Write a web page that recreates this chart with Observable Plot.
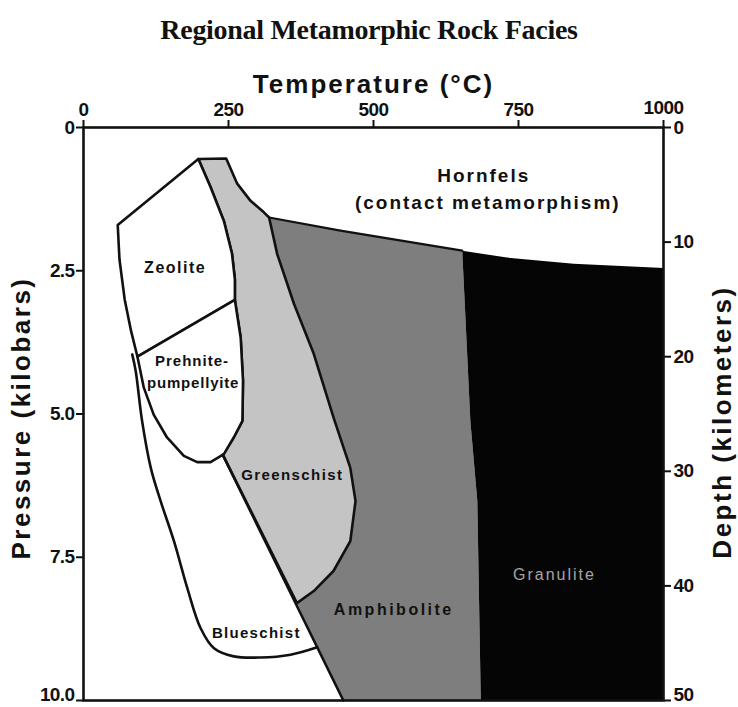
<!DOCTYPE html>
<html>
<head>
<meta charset="utf-8">
<script src="https://cdn.jsdelivr.net/npm/d3@7"></script>
<script src="https://cdn.jsdelivr.net/npm/@observablehq/plot@0.6"></script>
<style>
  body { margin: 0; background: #fff; }
  #title {
    height: 56px; line-height: 60px; text-align: center;
    font-family: "Liberation Serif", "Times New Roman", serif;
    font-weight: bold; font-size: 28px; color: #111; letter-spacing: -0.3px;
  }
  #chart svg { overflow: visible; }
</style>
</head>
<body>
<div id="title">Regional Metamorphic Rock Facies</div>
<div id="chart"></div>
<script>
// ---- Axis ticks ----
const temperatureTicks = [0, 250, 500, 750, 1000];       // °C
const pressureTicks = [0, 2.5, 5, 7.5, 10];              // kilobars
const depthTicks = [0, 10, 20, 30, 40, 50];              // kilometers
const kmPerKbar = 5;

// ---- Facies outlines, [temperature °C, pressure kbar] ----
const zeolite = [[198,0.55],[59,1.7],[62,2.3],[71,3.0],[82,3.55],[93,4.0],[261,3.01],[261,2.65],[256,2.2],[242,1.63],[219,1.04]];
const prehnitePumpellyite = [[93,4.0],[261,3.01],[271,3.67],[275,4.42],[274,5.12],[259,5.41],[242,5.70],[219,5.84],[196,5.84],[173,5.73],[144,5.41],[121,5.01],[104,4.54]];
const greenschist = [[198,0.55],[246,0.54],[265,0.98],[288,1.28],[311,1.48],[320,1.57],[334,2.21],[363,3.08],[397,3.95],[431,5.06],[460,5.94],[469,6.52],[460,7.22],[431,7.74],[397,8.09],[368,8.30],[240,5.71],[259,5.41],[274,5.12],[275,4.42],[271,3.67],[261,3.01],[261,2.65],[256,2.2],[242,1.63],[219,1.04]];
const amphibolite = [[320,1.57],[443,1.80],[653,2.15],[667,5.12],[679,6.52],[682,8.27],[685,10],[448,10],[368,8.30],[397,8.09],[431,7.74],[460,7.22],[469,6.52],[460,5.94],[431,5.06],[397,3.95],[363,3.08],[334,2.21]];
const granulite = [[653,2.15],[730,2.27],[845,2.38],[1000,2.45],[1000,10],[685,10],[682,8.27],[679,6.52],[667,5.12]];
const amphiboliteTop = [[320,1.57],[443,1.80],[653,2.15]];
const blueschistLine = [[84,3.96],[90,4.25],[101,5.12],[116,5.94],[133,6.52],[156,7.22],[179,8.04],[202,8.74],[225,9.09],[259,9.23],[305,9.25],[357,9.20],[403,9.07]];
const highPressureLine = [[240,5.71],[448,10]];

// ---- Labels (text and where it sits, in °C / kbar) ----
const faciesLabels = [
  {t:158, p:2.45, text:"Zeolite"},
  {t:187, p:4.07, text:"Prehnite-"},
  {t:189, p:4.46, text:"pumpellyite"},
  {t:360, p:6.07, text:"Greenschist"},
  {t:298, p:8.83, text:"Blueschist"},
  {t:535, p:8.41, text:"Amphibolite"},
  {t:812, p:7.80, text:"Granulite"},
  {t:690, p:0.84, text:"Hornfels"},
  {t:697, p:1.31, text:"(contact metamorphism)"}
];
const xTitle = "Temperature (°C)";
const yTitle = "Pressure (kilobars)";
const y2Title = "Depth (kilometers)";

// ---- Label styling (separate from the data) ----
const labelStyle = {
  "Zeolite": {size: 16, weight: "bold", color: "#111", ls: 1.5},
  "Prehnite-": {size: 15, weight: "bold", color: "#111", ls: 1},
  "pumpellyite": {size: 15, weight: "bold", color: "#111", ls: 0.8},
  "Greenschist": {size: 15, weight: "bold", color: "#111", ls: 1.4},
  "Blueschist": {size: 15, weight: "bold", color: "#111", ls: 1.3},
  "Amphibolite": {size: 16, weight: "bold", color: "#111", ls: 2.5},
  "Granulite": {size: 16, weight: "normal", color: "#a5a5a5", ls: 2},
  "Hornfels": {size: 19, weight: "bold", color: "#111", ls: 2},
  "(contact metamorphism)": {size: 19, weight: "bold", color: "#111", ls: 2},
  [xTitle]: {ls: 2}, [yTitle]: {ls: 2.5}, [y2Title]: {ls: 2.5}
};

const X = d => d[0], Y = d => d[1];
const font = "Liberation Sans, Arial, sans-serif";

const chart = Plot.plot({
  width: 738,
  height: 651,
  marginTop: 71,
  marginBottom: 7,
  marginLeft: 83,
  marginRight: 75,
  style: {fontFamily: font, background: "#fff", color: "#111", overflow: "visible"},
  x: {domain: [0, 1000]},
  y: {domain: [0, 10], reverse: true},
  marks: [
    Plot.line(amphibolite, {x: X, y: Y, curve: "linear-closed", fill: "#7e7e7e", stroke: "none"}),
    Plot.line(granulite, {x: X, y: Y, curve: "linear-closed", fill: "#050505", stroke: "none"}),
    Plot.line(greenschist, {x: X, y: Y, curve: "linear-closed", fill: "#c4c4c4", stroke: "#111", strokeWidth: 2.6, strokeLinejoin: "round"}),
    Plot.line(zeolite, {x: X, y: Y, curve: "linear-closed", fill: "#fff", stroke: "#111", strokeWidth: 2.6, strokeLinejoin: "round"}),
    Plot.line(prehnitePumpellyite, {x: X, y: Y, curve: "linear-closed", fill: "#fff", stroke: "#111", strokeWidth: 2.6, strokeLinejoin: "round"}),
    Plot.line(amphiboliteTop, {x: X, y: Y, stroke: "#111", strokeWidth: 2.2}),
    Plot.line(blueschistLine, {x: X, y: Y, curve: "catmull-rom", stroke: "#111", strokeWidth: 2.6}),
    Plot.line(highPressureLine, {x: X, y: Y, stroke: "#111", strokeWidth: 2.6}),
    ...faciesLabels.map(l => {
      const s = labelStyle[l.text];
      return Plot.text([l], {x: "t", y: "p", text: "text", fill: s.color, fontSize: s.size, fontWeight: s.weight, fontFamily: font});
    }),
    Plot.frame({stroke: "#111", strokeWidth: 2.6}),
    Plot.axisX({anchor: "top", ticks: temperatureTicks, tickSize: 8, tickPadding: 4, label: null,
      tickFormat: d => String(d), strokeWidth: 2}),
    Plot.axisY({anchor: "left", ticks: pressureTicks, tickSize: 7, tickPadding: 2, label: null,
      tickFormat: d => d === 0 ? "0" : d.toFixed(1), strokeWidth: 2}),
    Plot.axisY({anchor: "right", ticks: depthTicks.map(d => d / kmPerKbar), tickSize: 7, tickPadding: 3, label: null,
      tickFormat: d => String(Math.round(d * kmPerKbar)), strokeWidth: 2}),
    Plot.text([xTitle], {frameAnchor: "top", dy: -53, text: d => d, fontSize: 26, fontWeight: "bold", fontFamily: font, fill: "#111"}),
    Plot.text([yTitle], {frameAnchor: "left", dx: -62, dy: 4, rotate: -90, textAnchor: "middle", text: d => d, fontSize: 26, fontWeight: "bold", fontFamily: font, fill: "#111"}),
    Plot.text([y2Title], {frameAnchor: "right", dx: 59, dy: 8, rotate: -90, textAnchor: "middle", text: d => d, fontSize: 26, fontWeight: "bold", fontFamily: font, fill: "#111"})
  ]
});

// text styling: tick labels large, bold and slightly tight; labels spaced as in the reference
d3.select(chart).selectAll("text").each(function() {
  const s = labelStyle[this.textContent];
  if (s) {
    this.style.letterSpacing = s.ls + "px";
  } else {
    this.style.letterSpacing = "-0.6px";
    this.style.fontSize = "19px";
    this.style.fontWeight = "bold";
    this.style.fontFamily = font;
    const tr = this.getAttribute("transform") || "";
    // the lowest tick labels sit just above their tick, inside the picture
    if (this.textContent === "10.0" || this.textContent === "50") this.setAttribute("transform", tr + " translate(0,-6)");
    // the corner labels 1000 and right-hand 0 are kept clear of each other
    if (this.textContent === "1000") this.setAttribute("transform", tr + " translate(0,-2)");
    if (this.textContent === "0" && this.getAttribute("text-anchor") === "start") this.setAttribute("transform", tr + " translate(0,2)");
  }
});
document.getElementById("chart").append(chart);
</script>
</body>
</html>
